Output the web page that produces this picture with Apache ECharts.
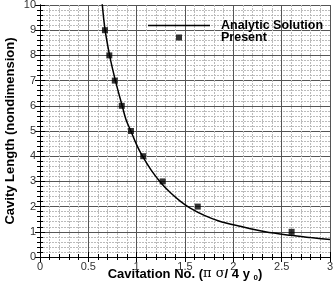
<!DOCTYPE html>
<html>
<head>
<meta charset="utf-8">
<script src="https://cdn.jsdelivr.net/npm/echarts@6/dist/echarts.min.js"></script>
<style>
  html, body { margin: 0; padding: 0; background: #fff; }
  #chart { width: 336px; height: 289px; }
</style>
</head>
<body>
<div id="chart"></div>
<script>
// analytic solution curve
var curveX = [0.64, 0.67, 0.72, 0.78, 0.85, 0.89, 0.94, 1.0, 1.06, 1.15, 1.25, 1.35, 1.45, 1.55, 1.7, 1.85, 2.07, 2.33, 2.59, 2.8, 3.0];
var curveY = [10.2, 9.1, 8.0, 7.0, 6.0, 5.45, 5.0, 4.45, 4.0, 3.45, 2.95, 2.55, 2.22, 1.95, 1.65, 1.43, 1.22, 1.0, 0.86, 0.77, 0.69];
// present results
var presentX = [0.672, 0.717, 0.774, 0.846, 0.941, 1.068, 1.269, 1.632, 2.603];
var presentY = [9, 8, 7, 6, 5, 4, 3, 2, 1];
var xTicks = [0, 0.5, 1, 1.5, 2, 2.5, 3];
var yTicks = [0, 1, 2, 3, 4, 5, 6, 7, 8, 9, 10];

var myChart = echarts.init(document.getElementById('chart'));

function zip(a, b) {
    return a.map(function (v, i) { return [v, b[i]]; });
}

var font = 'Liberation Sans, Arial, sans-serif';

function axisBase(showLabel) {
    return {
        type: 'value',
        axisLine: { show: true, lineStyle: { color: '#000', width: 1 } },
        axisTick: { show: true, inside: true, length: 5, lineStyle: { color: '#000' } },
        minorTick: { show: true, splitNumber: 5, length: 3, lineStyle: { color: '#000' } },
        axisLabel: { show: showLabel, fontSize: 11, color: '#333', fontFamily: font, margin: 4 },
        splitLine: { show: showLabel, lineStyle: { color: '#555', width: 1 } },
        minorSplitLine: { show: showLabel, lineStyle: { color: '#bbb', type: [2, 1], width: 1 } }
    };
}

var xMain = Object.assign(axisBase(true), {
    min: xTicks[0], max: xTicks[xTicks.length - 1], interval: 0.5,
    name: '{b|Cavitation No. (}{s|π σ}{b|/ 4 y }{sub|0}{b|)}',
    nameLocation: 'middle', nameGap: 9, nameMoveOverlap: false,
    nameTextStyle: {
        rich: {
            b: { fontSize: 13, fontWeight: 'bold', color: '#000', fontFamily: font },
            s: { fontSize: 13, color: '#000', fontFamily: 'DejaVu Serif, serif' },
            sub: { fontSize: 8, fontWeight: 'bold', color: '#000', fontFamily: font, verticalAlign: 'bottom', padding: [8, 0, 0, 0] }
        }
    }
});
xMain.axisLabel.formatter = function (v) { return String(v); };
var yMain = Object.assign(axisBase(true), {
    min: yTicks[0], max: yTicks[yTicks.length - 1], interval: 1,
    name: 'Cavity Length (nondimension)',
    nameLocation: 'middle', nameGap: 23, nameMoveOverlap: false,
    nameTextStyle: { fontSize: 13, fontWeight: 'bold', color: '#000', fontFamily: font }
});
var xTop = Object.assign(axisBase(false), { position: 'top', min: 0, max: 3, interval: 0.5 });
var yRight = Object.assign(axisBase(false), { position: 'right', min: 0, max: 10, interval: 1 });

var option = {
    backgroundColor: '#fff',
    animation: false,
    grid: { left: 40, right: 6, top: 5, bottom: 32, containLabel: false, outerBoundsMode: 'none' },
    legend: {
        orient: 'vertical',
        left: 143, top: 14,
        itemWidth: 62, itemHeight: 6,
        itemGap: -1,
        textStyle: { fontSize: 12.5, fontWeight: 'bold', color: '#000', fontFamily: font, lineHeight: 12, padding: [0, 0, 0, 6] },
        data: [
            { name: 'Analytic Solution', icon: 'path://M0,0h62v1.5h-62z' },
            { name: 'Present', icon: 'path://M0,0h10v10h-10z' }
        ]
    },
    xAxis: [xMain, xTop],
    yAxis: [yMain, yRight],
    series: [
        {
            name: 'Analytic Solution',
            type: 'line',
            data: zip(curveX, curveY),
            showSymbol: false,
            symbol: 'none',
            smooth: 0.3,
            clip: true,
            lineStyle: { color: '#000', width: 1.5 },
            itemStyle: { color: '#000' },
            z: 3
        },
        {
            name: 'Present',
            type: 'scatter',
            data: zip(presentX, presentY),
            symbol: 'rect',
            symbolSize: 6,
            itemStyle: { color: '#000' },
            z: 4
        }
    ]
};

myChart.setOption(option);
</script>
</body>
</html>
